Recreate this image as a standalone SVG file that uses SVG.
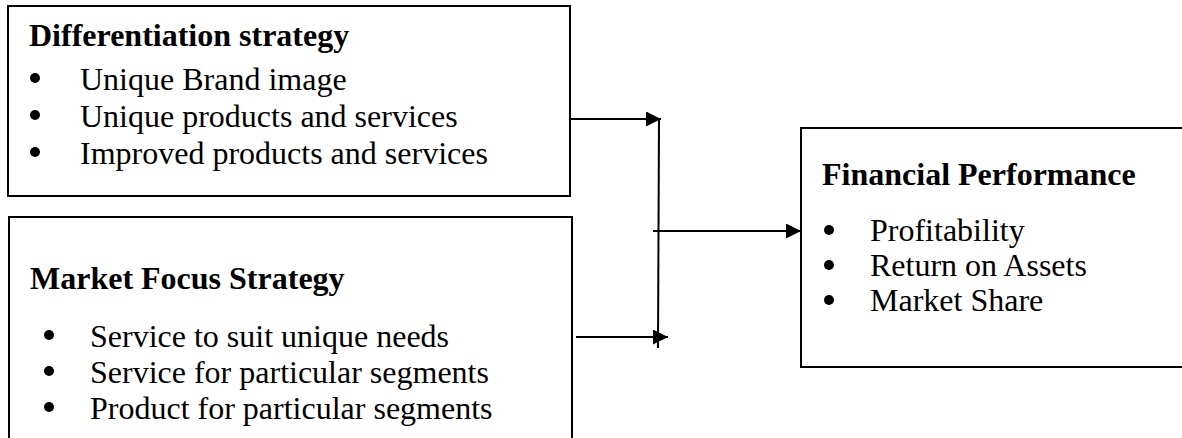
<svg xmlns="http://www.w3.org/2000/svg" width="1182" height="438" viewBox="0 0 1182 438">
  <style>
    .box { fill: #ffffff; stroke: #000000; stroke-width: 2; }
    .title { font-family: "Liberation Serif", "Times New Roman", serif; font-size: 32px; font-weight: bold; fill: #000000; }
    .item { font-family: "Liberation Serif", "Times New Roman", serif; font-size: 32px; fill: #000000; }
    .bullet { fill: #000000; }
    .link { stroke: #000000; stroke-width: 2; fill: none; }
  </style>
  <defs>
    <marker id="arrow" markerUnits="userSpaceOnUse" markerWidth="16" markerHeight="16" refX="15" refY="7.5" orient="auto">
      <path d="M0,0 L15,7.5 L0,15 Z" fill="#000000"/>
    </marker>
  </defs>

  <rect width="1182" height="438" fill="#ffffff"/>

  <!-- Differentiation strategy -->
  <g id="differentiation">
    <rect class="box" x="8" y="6" width="562" height="190"/>
    <text class="title" x="29" y="46">Differentiation strategy</text>
    <circle class="bullet" cx="35" cy="78" r="5"/>
    <text class="item" x="80" y="90">Unique Brand image</text>
    <circle class="bullet" cx="35" cy="115" r="5"/>
    <text class="item" x="80" y="127">Unique products and services</text>
    <circle class="bullet" cx="35" cy="152" r="5"/>
    <text class="item" x="80" y="164">Improved products and services</text>
  </g>

  <!-- Market Focus Strategy -->
  <g id="market-focus">
    <rect class="box" x="9" y="217" width="563" height="240"/>
    <text class="title" x="30" y="289">Market Focus Strategy</text>
    <circle class="bullet" cx="49" cy="335" r="5"/>
    <text class="item" x="90" y="347">Service to suit unique needs</text>
    <circle class="bullet" cx="49" cy="371" r="5"/>
    <text class="item" x="90" y="383">Service for particular segments</text>
    <circle class="bullet" cx="49" cy="407" r="5"/>
    <text class="item" x="90" y="419">Product for particular segments</text>
  </g>

  <!-- Financial Performance -->
  <g id="financial-performance">
    <rect class="box" x="801" y="128" width="400" height="239"/>
    <text class="title" x="822" y="185">Financial Performance</text>
    <circle class="bullet" cx="829" cy="230" r="5"/>
    <text class="item" x="870" y="241">Profitability</text>
    <circle class="bullet" cx="829" cy="265" r="5"/>
    <text class="item" x="870" y="276">Return on Assets</text>
    <circle class="bullet" cx="829" cy="300" r="5"/>
    <text class="item" x="870" y="311">Market Share</text>
  </g>

  <!-- Connectors -->
  <g id="connectors">
    <line class="link" x1="570" y1="119" x2="661" y2="119" marker-end="url(#arrow)"/>
    <line class="link" x1="659" y1="119" x2="658" y2="348"/>
    <line class="link" x1="576" y1="337" x2="668" y2="337" marker-end="url(#arrow)"/>
    <line class="link" x1="653" y1="231" x2="801" y2="231" marker-end="url(#arrow)"/>
  </g>
</svg>
